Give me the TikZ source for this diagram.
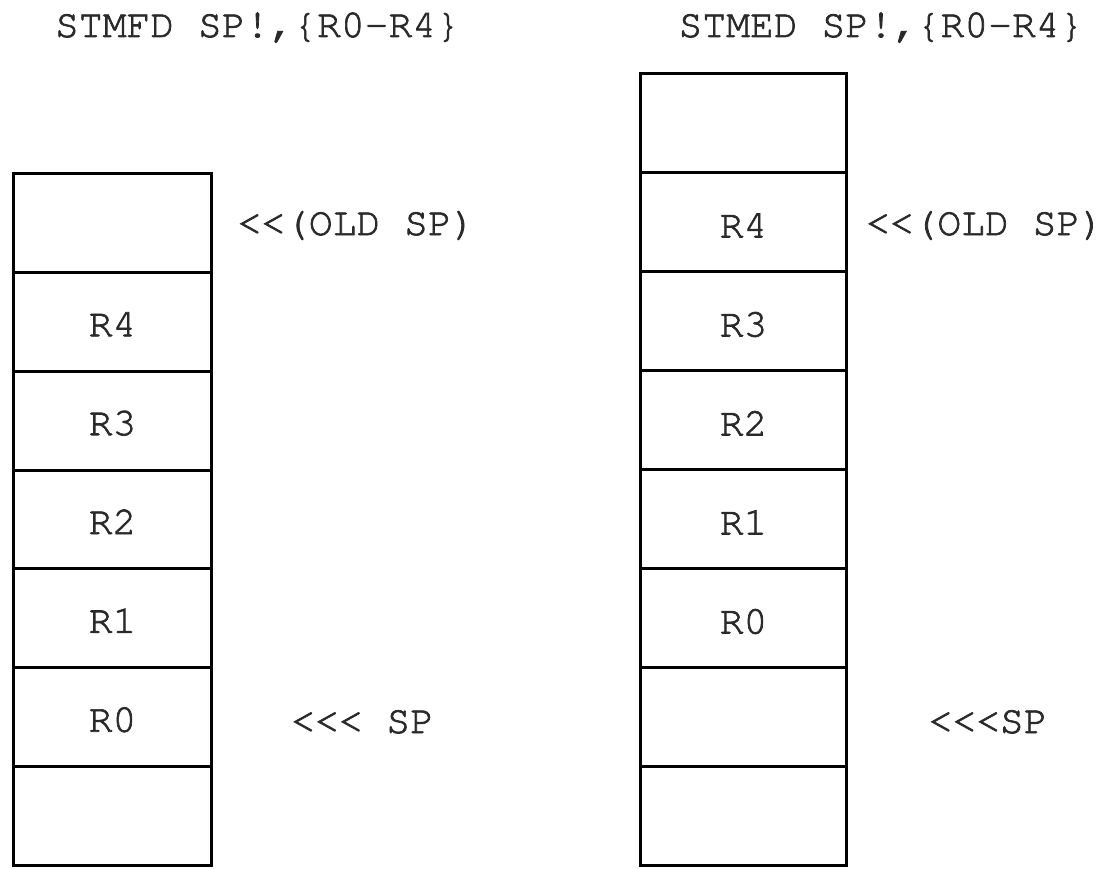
\documentclass[tikz,border=0pt]{standalone}
\usepackage[T1]{fontenc}
\renewcommand{\ttdefault}{pcr}
\definecolor{txt}{HTML}{2A2A2A}
\newcommand{\thk}[1]{\special{pdf:literal 2 Tr 0.7 w}#1\special{pdf:literal 0 Tr}}
\begin{document}
\begin{tikzpicture}[x=1pt,y=-1pt,
  lbl/.style={font=\ttfamily\fontsize{39.7pt}{48pt}\selectfont, text=txt, inner sep=0pt, anchor=base},
  cellL/.style={draw=black, line width=3pt, minimum width=198pt, minimum height=98.86pt, inner sep=0pt},
  cellR/.style={cellL, minimum width=206pt, minimum height=99pt}]
\useasboundingbox (0,0) rectangle (1110,869);
\fill[white] (0,0) rectangle (1110,869);
% titles
\node[lbl] (tL) at (257.5,37) {\thk{STMFD SP!,\{R0-R4\}}};
\node[lbl] (tR) at (881,37) {\thk{STMED SP!,\{R0-R4\}}};
% left stack
\foreach \i/\t in {0/,1/R4,2/R3,3/R2,4/R1,5/R0,6/}{
  \node[cellL] (L\i) at (112.5,{173.5+98.86*(\i+0.5)}) {};
  \node[lbl] (Lt\i) at ([yshift=-14.5pt]L\i.center) {\thk{\t}};
}
% right stack
\foreach \i/\t in {0/,1/R4,2/R3,3/R2,4/R1,5/R0,6/,7/}{
  \node[cellR] (R\i) at (743.5,{73.5+99*(\i+0.5)}) {};
  \node[lbl] (Rt\i) at ([yshift=-15.5pt]R\i.center) {\thk{\t}};
}
% side labels
\node[lbl] (oL) at (356.5,235) {\thk{<{}<(OLD SP)}};
\node[lbl] (oR) at (985,235) {\thk{<{}<(OLD SP)}};
\node[lbl] (sL) at (362.5,733) {\thk{<{}<{}< SP}};
\node[lbl] (sR) at (988,733) {\thk{<{}<{}<SP}};
\end{tikzpicture}
\end{document}
